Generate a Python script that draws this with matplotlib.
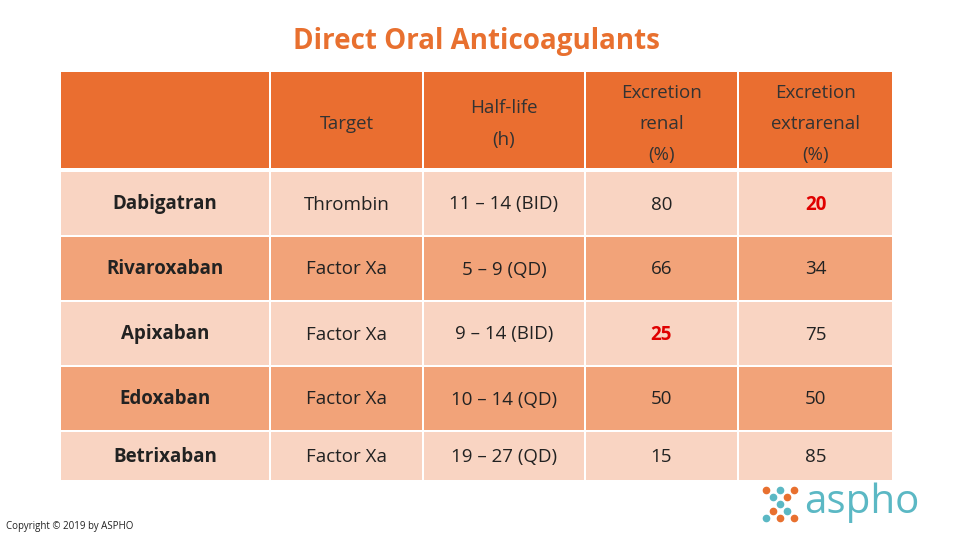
import matplotlib.pyplot as plt
from matplotlib.patches import Rectangle

# table data
title = 'Direct Oral Anticoagulants'
headers = ['', 'Target', 'Half-life\n(h)', 'Excretion\nrenal\n(%)', 'Excretion\nextrarenal\n(%)']
drugs = ['Dabigatran', 'Rivaroxaban', 'Apixaban', 'Edoxaban', 'Betrixaban']
targets = ['Thrombin', 'Factor Xa', 'Factor Xa', 'Factor Xa', 'Factor Xa']
half_life = ['11 – 14 (BID)', '5 – 9 (QD)', '9 – 14 (BID)', '10 – 14 (QD)', '19 – 27 (QD)']
renal = [80, 66, 25, 50, 15]
extrarenal = [20, 34, 75, 50, 85]
# cells drawn in red
highlight = [(0, 4), (2, 3)]

col_x = [60, 270, 423, 585, 738, 893]
head_y = (72, 168)
row_y = [(172, 235), (237, 300), (302, 365), (367, 430), (432, 480)]
head_color = '#EA6E30'
row_colors = ['#F9D4C2', '#F2A379']
font = 'Open Sans'

fig = plt.figure(figsize=(9.6, 5.4), dpi=100)
ax = fig.add_axes([0, 0, 1, 1])
ax.set_xlim(0, 960)
ax.set_ylim(540, 0)
ax.axis('off')

ax.text(476, 42, title, ha='center', va='center', fontsize=20,
        fontweight='bold', color='#E8702F', family=font)

for c in range(5):
    x0, x1 = col_x[c], col_x[c + 1]
    ax.add_patch(Rectangle((x0 + 1, head_y[0]), x1 - x0 - 2, head_y[1] - head_y[0],
                           color=head_color, lw=0))
    ax.text((x0 + x1) / 2, (head_y[0] + head_y[1]) / 2 + 4, headers[c], ha='center',
            va='center', fontsize=13.5, color='#333333', family=font, linespacing=1.95)

for r in range(len(drugs)):
    vals = [drugs[r], targets[r], half_life[r], str(renal[r]), str(extrarenal[r])]
    y0, y1 = row_y[r]
    for c in range(5):
        x0, x1 = col_x[c], col_x[c + 1]
        ax.add_patch(Rectangle((x0 + 1, y0), x1 - x0 - 2, y1 - y0,
                               color=row_colors[r % 2], lw=0))
        red = (r, c) in highlight
        ax.text((x0 + x1) / 2, (y0 + y1) / 2 + 1, vals[c], ha='center', va='center',
                fontsize=13.5, family=font,
                fontweight='bold' if (c == 0 or red) else 'normal',
                color='#E00000' if red else '#222222')

ax.text(6, 527, 'Copyright © 2019 by ASPHO', ha='left', va='center',
        fontsize=7, color='#222222', family=font)

# logo
dots = [(766, 490), (780, 490), (794, 490), (773, 497), (787, 497), (780, 504),
        (773, 511), (787, 511), (766, 518), (780, 518), (794, 518)]
dot_cols = ['#E8702F', '#5BB8C4', '#E8702F', '#5BB8C4', '#E8702F', '#5BB8C4',
            '#E8702F', '#5BB8C4', '#5BB8C4', '#E8702F', '#E8702F']
for (dx, dy), dc in zip(dots, dot_cols):
    ax.plot(dx, dy, 'o', ms=4.5, color=dc)
ax.text(804, 503, 'aspho', ha='left', va='center', fontsize=29,
        color='#5BB8C4', family=font)

fig.savefig('out.png', dpi=100)
